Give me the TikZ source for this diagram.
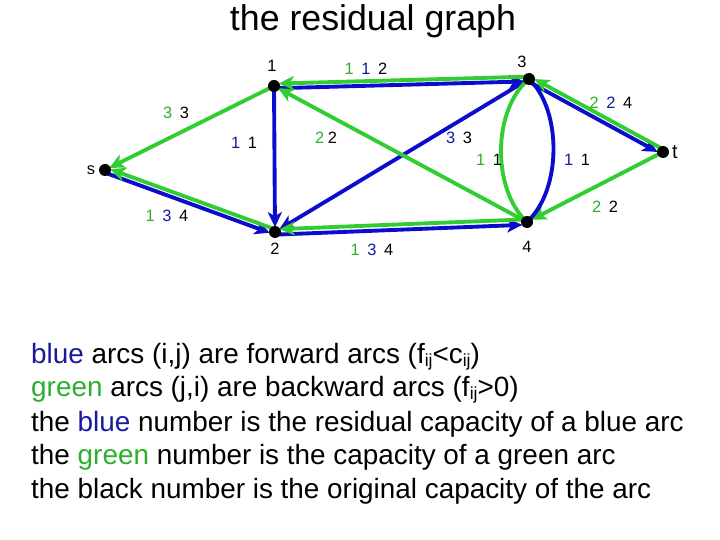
\documentclass[tikz,border=0pt]{standalone}
\usepackage{fontspec}
\setmainfont{Liberation Sans}
\usetikzlibrary{arrows.meta}
\definecolor{gl}{RGB}{50,205,50}
\definecolor{bl}{RGB}{12,12,205}
\definecolor{gt}{RGB}{45,175,45}
\definecolor{bt}{RGB}{25,25,160}
\pgfdeclarelayer{bg}
\pgfsetlayers{bg,main}
\newcommand{\gp}{\hspace{6.5pt}}
\newcommand{\sbij}{\raisebox{-2.5pt}{\fontsize{15}{16}\selectfont ij}}
\begin{document}
\begin{tikzpicture}[x=0.03cm,y=-0.03cm,
  vtx/.style={circle,fill=black,inner sep=0pt,minimum size=0.36cm},
  vlab/.style={font=\fontsize{14}{16}\selectfont,inner sep=0pt},
  elab/.style={font=\fontsize{14}{16}\selectfont,inner sep=0pt},
  tip/.style={-{Stealth[length=13pt,width=12pt,inset=3.5pt]},shorten >=0.14cm,shorten <=0.1cm},
  garc/.style={draw=gl,line width=3.3pt,tip},
  barc/.style={draw=bl,line width=3.3pt,tip},
  txt/.style={anchor=base west,inner sep=0pt,font=\fontsize{23.8}{29}\selectfont}]
\useasboundingbox (0,0) rectangle (720,540);

\node[anchor=base,inner sep=0pt,font=\fontsize{30.5}{34}\selectfont] (title) at (373,31) {the residual graph};

% vertices
\node[vtx] (n1) at (274,86) {};
\node[vtx] (n3) at (529,79) {};
\node[vtx] (s) at (105,170) {};
\node[vtx] (t) at (663,152) {};
\node[vtx] (n2) at (275,232) {};
\node[vtx] (n4) at (527,222) {};

\node[vlab] (l1) at (272,66) {1};
\node[vlab] (l3) at (522,62) {3};
\node[vlab] (ls) at (91,170) {s};
\node[vlab,font=\fontsize{17}{18}\selectfont] (lt) at (675,152) {t};
\node[vlab] (l2) at (275,249) {2};
\node[vlab] (l4) at (527,247) {4};

\begin{pgfonlayer}{bg}
% 1 <-> 3
\draw[barc] ([yshift=-0.07cm]n1.center) -- ([yshift=-0.07cm]n3.center);
\draw[garc] ([yshift=0.07cm]n3.center) -- ([yshift=0.07cm]n1.center);
% 1 -> s
\draw[garc] (n1.center) -- (s.center);
% 1 -> 2
\draw[barc] (n1.center) -- (n2.center);
% 3 -> 2
\draw[barc] (n3.center) -- (n2.center);
% 4 -> 1
\draw[garc] (n4.center) -- (n1.center);
% s <-> 2
\draw[barc] ([shift={(-0.85,2.35)}]s.center) -- ([shift={(-0.85,2.35)}]n2.center);
\draw[garc] ([shift={(0.85,-2.35)}]n2.center) -- ([shift={(0.85,-2.35)}]s.center);
% 3 <-> t
\draw[barc] ([shift={(-1.2,2.2)}]n3.center) -- ([shift={(-1.2,2.2)}]t.center);
\draw[garc] ([shift={(1.2,-2.2)}]t.center) -- ([shift={(1.2,-2.2)}]n3.center);
% t -> 4
\draw[garc] (t.center) -- (n4.center);
% 2 <-> 4
\draw[barc] ([yshift=-0.08cm]n2.center) -- ([yshift=-0.08cm]n4.center);
\draw[garc] ([yshift=0.08cm]n4.center) -- ([yshift=0.08cm]n2.center);
% 3 - 4 arcs
\draw[draw=bl,line width=3.3pt] (n3.center) .. controls (562,110) and (562,190) .. (n4.center);
\draw[draw=gl,line width=3.3pt] (n3.center) .. controls (492,110) and (492,190) .. (n4.center);
\end{pgfonlayer}

% edge labels
\node[elab] (e13) at (366,69) {\textcolor{gt}{1}\gp\textcolor{bt}{1}\gp 2};
\node[elab] (e1s) at (176,113) {\textcolor{gt}{3}\gp 3};
\node[elab] (e12) at (244,143) {\textcolor{bt}{1}\gp 1};
\node[elab] (e41) at (326,138) {\textcolor{gt}{2}\hspace{3pt}2};
\node[elab] (e32) at (459,138) {\textcolor{bt}{3}\gp 3};
\node[elab] (e34g) at (489,160) {\textcolor{gt}{1}\gp 1};
\node[elab] (e34b) at (577,160) {\textcolor{bt}{1}\gp 1};
\node[elab] (e3t) at (611,103) {\textcolor{gt}{2}\gp\textcolor{bt}{2}\gp 4};
\node[elab] (et4) at (605,207) {\textcolor{gt}{2}\gp 2};
\node[elab] (es2) at (167,216) {\textcolor{gt}{1}\gp\textcolor{bt}{3}\gp 4};
\node[elab] (e24) at (372,250) {\textcolor{gt}{1}\gp\textcolor{bt}{3}\gp 4};

% legend text
\node[txt] (x1) at (31,364) {\textcolor{bt}{blue} arcs (i,j) are forward arcs (f\sbij<c\sbij)};
\node[txt] (x2) at (31,397) {\textcolor{gt}{green} arcs (j,i) are backward arcs (f\sbij>0)};
\node[txt] (x3) at (31,431) {the \textcolor{bt}{blue} number is the residual capacity of a blue arc};
\node[txt] (x4) at (31,464) {the \textcolor{gt}{green} number is the capacity of a green arc};
\node[txt] (x5) at (31,498) {the black number is the original capacity of the arc};
\end{tikzpicture}
\end{document}
